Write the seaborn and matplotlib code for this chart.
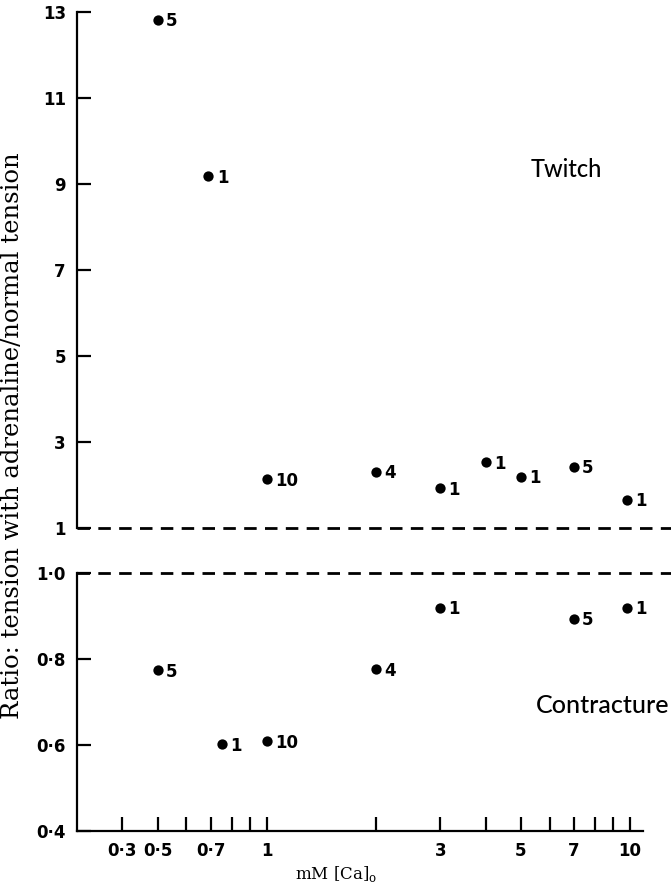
import matplotlib
matplotlib.use("Agg")
import matplotlib.pyplot as plt
import seaborn as sns
import pandas as pd

# Twitch: ratio of tension with adrenaline / normal tension
twitch_ca = [0.5, 0.69, 1, 2, 3, 4, 5, 7, 9.8]
twitch_ratio = [12.82, 9.18, 2.13, 2.31, 1.92, 2.53, 2.19, 2.42, 1.65]
twitch_n = [5, 1, 10, 4, 1, 1, 1, 5, 1]

# Contracture
contr_ca = [0.5, 0.75, 1, 2, 3, 7, 9.8]
contr_ratio = [0.774, 0.602, 0.609, 0.776, 0.919, 0.894, 0.919]
contr_n = [5, 1, 10, 4, 1, 5, 1]

x_major = [0.4, 0.5, 0.7, 1, 3, 5, 7, 10]
x_major_labels = ['0·3', '0·5', '0·7', '1', '3', '5', '7', '10']
x_minor = [0.6, 0.8, 0.9, 2, 4, 6, 8, 9]
twitch_yticks = [1, 3, 5, 7, 9, 11, 13]
contr_yticks = [0.4, 0.6, 0.8, 1.0]
contr_ylabels = ['0·4', '0·6', '0·8', '1·0']

sns.set_style("ticks")
plt.rcParams['font.family'] = ['DejaVu Sans']
plt.rcParams['text.color'] = 'black'
plt.rcParams['axes.edgecolor'] = 'black'
plt.rcParams['xtick.color'] = 'black'
plt.rcParams['ytick.color'] = 'black'

twitch = pd.DataFrame({'ca': twitch_ca, 'ratio': twitch_ratio, 'n': twitch_n})
contr = pd.DataFrame({'ca': contr_ca, 'ratio': contr_ratio, 'n': contr_n})

fig = plt.figure(figsize=(6.71, 8.88), dpi=100)
ax1 = fig.add_axes([77/671, 1 - 528/888, 1 - 77/671, (528 - 12)/888])
ax2 = fig.add_axes([77/671, 1 - 831/888, 1 - 77/671, (831 - 573)/888])

xlim = (0.3, 12.96)
lw = 1.6
tick_font = dict(fontsize=12, fontweight='bold')

for ax, df, ylim in [(ax1, twitch, (1, 13)), (ax2, contr, (0.4, 1.0))]:
    sns.scatterplot(data=df, x='ca', y='ratio', ax=ax, color='black', s=55,
                    edgecolor='black', linewidth=0, zorder=3, legend=False)
    ax.set_xscale('log')
    ax.set_xlim(*xlim)
    ax.set_ylim(*ylim)
    ax.axhline(ylim[1] if ax is ax2 else ylim[0], color='black', lw=2,
               ls=(0, (4.5, 3)), clip_on=False, zorder=2)
    for x, y, n in zip(df['ca'], df['ratio'], df['n']):
        ax.annotate(str(n), (x, y), xytext=(6, -1), textcoords='offset points',
                    ha='left', va='center', **tick_font)
    ax.set_xlabel('')
    ax.set_ylabel('')
    for side in ['top', 'right']:
        ax.spines[side].set_visible(False)
    ax.spines['left'].set_linewidth(lw)
    ax.spines['bottom'].set_linewidth(lw)
    ax.patch.set_alpha(0)

# top panel
ax1.spines['bottom'].set_visible(False)
ax1.set_xticks([])
ax1.set_xticks([], minor=True)
ax1.set_yticks(twitch_yticks)
ax1.set_yticklabels([str(t) for t in twitch_yticks], **tick_font)
ax1.tick_params(axis='y', left=True, direction='in', length=10, width=lw, pad=8)
ax1.text(0.823, 0.694, 'Twitch', transform=ax1.transAxes, ha='center',
         va='center', fontsize=17, family='Lato', fontweight='medium')

# bottom panel
ax2.spines['bottom'].set_bounds(0.3, 10.86)
ax2.set_yticks(contr_yticks)
ax2.set_yticklabels(contr_ylabels, **tick_font)
ax2.set_xticks(x_major)
ax2.set_xticklabels(x_major_labels, **tick_font)
ax2.set_xticks(x_minor, minor=True)
ax2.set_xticklabels([], minor=True)
ax2.tick_params(axis='y', left=True, direction='in', length=10, width=lw, pad=8)
ax2.tick_params(axis='x', which='both', bottom=True, direction='in', length=10,
                width=lw, pad=8)
ax2.text(0.997, 0.488, 'Contracture', transform=ax2.transAxes, ha='right',
         va='center', fontsize=18, family='Lato', fontweight='medium')

fig.text(13/671, 1 - 436/888, 'Ratio: tension with adrenaline/normal tension',
         rotation=90, ha='center', va='center', fontsize=17.5, family='DejaVu Serif')
fig.text(336/671, 1 - 874/888, r'mM [Ca]$_\mathregular{o}$', ha='center',
         va='center', fontsize=12, family='DejaVu Serif')

fig.savefig('out.png', dpi=100, facecolor='white')
